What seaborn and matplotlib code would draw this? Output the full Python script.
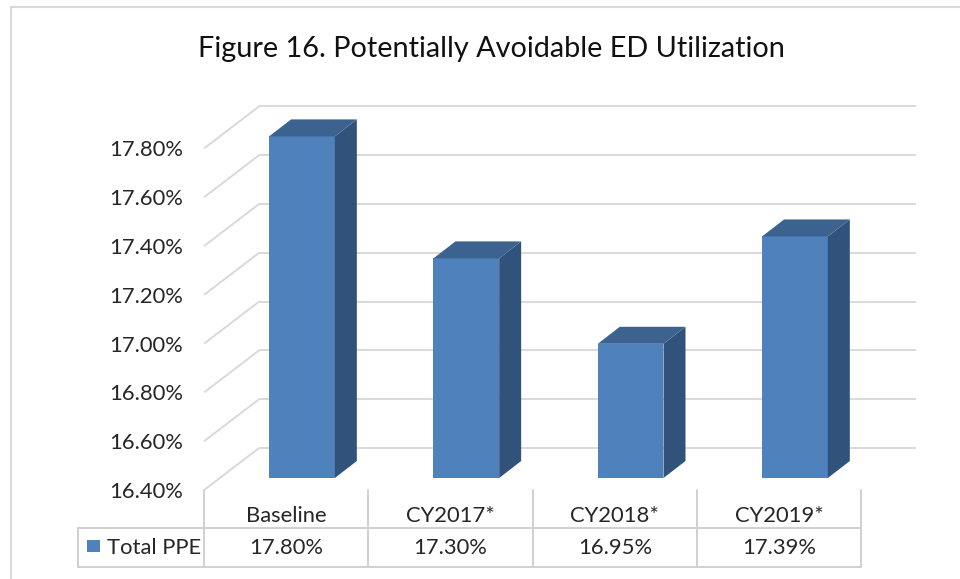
import matplotlib
matplotlib.use("Agg")
import matplotlib.pyplot as plt
import seaborn as sns
import numpy as np
from matplotlib.patches import Polygon, Rectangle
from matplotlib.lines import Line2D
from matplotlib.transforms import blended_transform_factory

categories = ["Baseline", "CY2017*", "CY2018*", "CY2019*"]
values = [17.80, 17.30, 16.95, 17.39]
series_name = "Total PPE"
yticks = [16.40, 16.60, 16.80, 17.00, 17.20, 17.40, 17.60, 17.80]
title = "Figure 16. Potentially Avoidable ED Utilization"

sns.set_theme(style="white")
plt.rcParams["font.family"] = ["Lato", "DejaVu Sans"]

W, H = 960, 579
fig = plt.figure(figsize=(W / 100, H / 100), dpi=100)
fig.patch.set_facecolor("white")

# axes placement (pixel geometry of the bar front plane)
px_cat = 164.33
px_pct = 244.0
x_left = 219.8
y_floor = 478.0
ymin, ymax = 16.4, 18.0
ax = fig.add_axes([x_left / W, (H - y_floor) / H, 4 * px_cat / W, (ymax - ymin) * px_pct / H])
ax.set_facecolor("none")

front_col = "#4F81BD"
top_col = "#3C6290"
side_col = "#31527B"
grid_col = "#D9D9D9"
text_col = "#262626"
fs = 15.8

sns.barplot(x=categories, y=values, color=front_col, width=0.40, ax=ax,
            saturation=1, zorder=2, edgecolor="none")
ax.set_xlim(-0.5, 3.5)
ax.set_ylim(ymin, ymax)
ax.axis("off")

# depth vectors (data units)
bdx, bdy = 22 / px_cat, 17 / px_pct          # bar depth
fdx, fdy = -15.7 / px_cat, -12 / px_pct      # front wall offset from bar plane
kdx, kdy = 39.3 / px_cat, 30 / px_pct        # back wall offset from bar plane

# gridlines: diagonal on left wall + horizontal on back wall
for v in yticks:
    ax.plot([-0.5 + fdx, -0.5 + kdx], [v + fdy, v + kdy], color=grid_col, lw=1.4,
            zorder=0.5, clip_on=False, solid_capstyle="butt")
    ax.plot([-0.5 + kdx, 3.5 + kdx], [v + kdy, v + kdy], color=grid_col, lw=1.4,
            zorder=0.5, clip_on=False, solid_capstyle="butt")
    ax.text(-0.5 + fdx - 21 / px_cat, v + fdy - 2 / px_pct, f"{v:.2f}%", ha="right", va="center",
            fontsize=fs, color=text_col)

# 3D side and top faces
hw = 0.20
for i, v in enumerate(values):
    side = Polygon([(i + hw, ymin), (i + hw + bdx, ymin + bdy), (i + hw + bdx, v + bdy), (i + hw, v)],
                   closed=True, facecolor=side_col, edgecolor="none", zorder=2)
    top = Polygon([(i - hw, v), (i + hw, v), (i + hw + bdx, v + bdy), (i - hw + bdx, v + bdy)],
                  closed=True, facecolor=top_col, edgecolor="none", zorder=2)
    ax.add_patch(side)
    ax.add_patch(top)

# data table
tr = blended_transform_factory(ax.transData, fig.transFigure)
def fy(py):
    return 1 - py / H
tbl_col = "#D0D0D0"
y_top, y_mid, y_bot = fy(490), fy(528), fy(567)
for k in range(len(categories) + 1):
    xb = k - 0.5 + fdx
    fig.add_artist(Line2D([xb, xb], [y_top, y_bot], transform=tr, color=tbl_col, lw=1.4))
x_leg_left = ax.transData.inverted().transform((78, 0))[0]
x_right = len(categories) - 0.5 + fdx
for yy in (y_mid, y_bot):
    fig.add_artist(Line2D([x_leg_left, x_right], [yy, yy], transform=tr, color=tbl_col, lw=1.4))
fig.add_artist(Line2D([x_leg_left, x_leg_left], [y_mid, y_bot], transform=tr, color=tbl_col, lw=1.4))

for i, (c, v) in enumerate(zip(categories, values)):
    ax.text(i + fdx, fy(522), c, transform=tr, ha="center", va="baseline",
            fontsize=fs, color=text_col)
    ax.text(i + fdx, fy(554), f"{v:.2f}%", transform=tr, ha="center", va="baseline",
            fontsize=fs, color=text_col)

# legend key in table
fig.add_artist(Rectangle((87 / W, fy(552)), 13 / W, 12 / H, transform=fig.transFigure,
                         facecolor=front_col, edgecolor="none"))
fig.text(107 / W, fy(554), series_name, ha="left", va="baseline", fontsize=fs, color=text_col)

# title
fig.text(491 / W, fy(57), title, ha="center", va="baseline", fontsize=20.8, color="#111111")

# chart border
fig.add_artist(Rectangle((11 / W, -0.2), 2.0, 1.2 - 7 / H, transform=fig.transFigure,
                         facecolor="none", edgecolor=grid_col, lw=1.5))

fig.savefig("out.png", dpi=100, facecolor="white")
